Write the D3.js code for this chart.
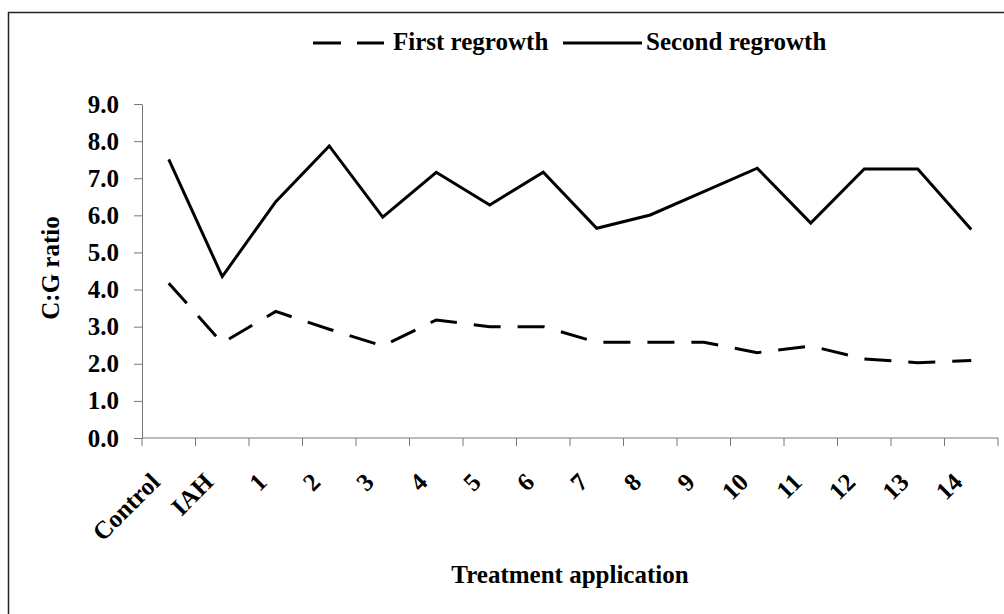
<!DOCTYPE html>
<html>
<head>
<meta charset="utf-8">
<script src="https://cdn.jsdelivr.net/npm/d3@7"></script>
<style>
  body { margin: 0; background: #fff; }
  svg { display: block; }
  text { font-family: "Liberation Serif", "Times New Roman", serif; font-weight: bold; fill: #000; }
</style>
</head>
<body>
<svg width="1004" height="614"></svg>
<script>
// categories + values
const treatments = ["Control", "IAH", "1", "2", "3", "4", "5", "6", "7", "8", "9", "10", "11", "12", "13", "14"];
const firstRegrowth  = [4.17, 2.56, 3.41, 2.93, 2.48, 3.18, 3.00, 3.00, 2.58, 2.58, 2.58, 2.30, 2.48, 2.13, 2.03, 2.09];
const secondRegrowth = [7.51, 4.35, 6.37, 7.87, 5.95, 7.16, 6.28, 7.16, 5.65, 6.01, 6.64, 7.27, 5.79, 7.25, 7.25, 5.62];
const yTicks = [0, 1, 2, 3, 4, 5, 6, 7, 8, 9];

const plotLeft = 142, plotRight = 998, plotTop = 104, plotBottom = 438;
const fontSize = "25px";

const svg = d3.select("svg");

// outer frame (runs off the right/bottom like the original)
svg.append("rect")
    .attr("x", 8.5)
    .attr("y", 12.5)
    .attr("width", 1010)
    .attr("height", 620)
    .attr("fill", "none")
    .attr("stroke", "#222")
    .attr("stroke-width", 1.5);

const x = d3.scaleBand()
    .domain(treatments)
    .range([plotLeft, plotRight])
    .padding(0);

const y = d3.scaleLinear()
    .domain([0, 9])
    .range([plotBottom, plotTop]);

const cx = d => x(d) + x.bandwidth() / 2;

// Y axis
const yAxis = svg.append("g")
    .attr("transform", `translate(${plotLeft}, 0)`)
    .call(d3.axisLeft(y)
        .tickValues(yTicks)
        .tickFormat(d3.format(".1f"))
        .tickSize(8)
        .tickSizeOuter(0)
        .tickPadding(15));
yAxis.select(".domain").attr("stroke", "#777");
yAxis.selectAll(".tick line").attr("stroke", "#777");
yAxis.selectAll(".tick text")
    .attr("font-size", fontSize)
    .attr("font-family", "Liberation Serif, serif")
    .attr("font-weight", "bold")
    .attr("fill", "#000");

// X axis line + ticks between categories
svg.append("line")
    .attr("x1", plotLeft).attr("x2", plotRight)
    .attr("y1", plotBottom).attr("y2", plotBottom)
    .attr("stroke", "#777");

const boundaries = treatments.map(d => x(d)).concat([x(treatments[treatments.length - 1]) + x.bandwidth()]);
svg.selectAll(".xtick")
    .data(boundaries)
    .enter().append("line")
    .attr("class", "xtick")
    .attr("x1", d => d).attr("x2", d => d)
    .attr("y1", plotBottom).attr("y2", plotBottom + 8)
    .attr("stroke", "#777");

// rotated category labels
svg.selectAll(".xlabel")
    .data(treatments)
    .enter().append("text")
    .attr("class", "xlabel")
    .attr("font-size", fontSize)
    .attr("text-anchor", "end")
    .attr("dy", "0.71em")
    .attr("transform", d => `translate(${cx(d) - 20}, 471) rotate(-45)`)
    .text(d => d);

// lines
const line = d3.line()
    .x((d, i) => cx(treatments[i]))
    .y(d => y(d));

svg.append("path")
    .datum(firstRegrowth)
    .attr("d", line)
    .attr("fill", "none")
    .attr("stroke", "#000")
    .attr("stroke-width", 3)
    .attr("stroke-dasharray", "27,17");

svg.append("path")
    .datum(secondRegrowth)
    .attr("d", line)
    .attr("fill", "none")
    .attr("stroke", "#000")
    .attr("stroke-width", 3)
    .attr("stroke-linejoin", "miter");

// axis titles
svg.append("text")
    .attr("x", (plotLeft + plotRight) / 2)
    .attr("y", 583)
    .attr("font-size", fontSize)
    .attr("text-anchor", "middle")
    .text("Treatment application");

svg.append("text")
    .attr("transform", "translate(59, 268) rotate(-90)")
    .attr("font-size", fontSize)
    .attr("text-anchor", "middle")
    .text("C:G ratio");

// legend
const legend = svg.append("g");
legend.append("line")
    .attr("x1", 313).attr("x2", 384)
    .attr("y1", 43).attr("y2", 43)
    .attr("stroke", "#000")
    .attr("stroke-width", 3)
    .attr("stroke-dasharray", "28,16");
legend.append("text")
    .attr("x", 393).attr("y", 50)
    .attr("font-size", fontSize)
    .text("First regrowth");
legend.append("line")
    .attr("x1", 563).attr("x2", 642)
    .attr("y1", 43).attr("y2", 43)
    .attr("stroke", "#000")
    .attr("stroke-width", 3);
legend.append("text")
    .attr("x", 646).attr("y", 50)
    .attr("font-size", fontSize)
    .text("Second regrowth");
</script>
</body>
</html>
